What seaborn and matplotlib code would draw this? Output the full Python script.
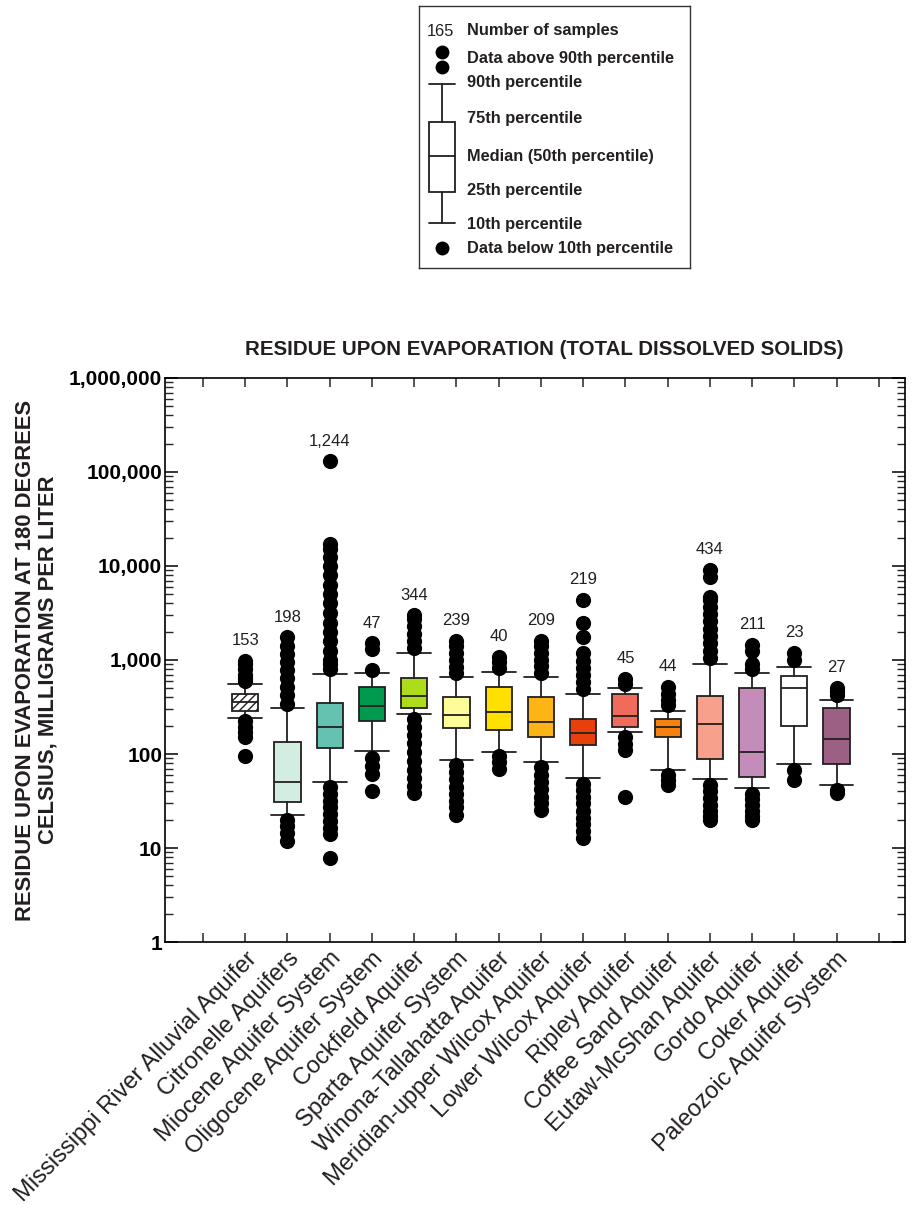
import matplotlib

matplotlib.use("Agg")
import matplotlib.pyplot as plt
import numpy as np
import pandas as pd
import seaborn as sns
from matplotlib.patches import Rectangle
from matplotlib.ticker import FuncFormatter, LogLocator, NullFormatter

# --- data (milligrams per liter) ---
AQUIFERS = [
    "Mississippi River Alluvial Aquifer",
    "Citronelle Aquifers",
    "Miocene Aquifer System",
    "Oligocene Aquifer System",
    "Cockfield Aquifer",
    "Sparta Aquifer System",
    "Winona-Tallahatta Aquifer",
    "Meridian-upper Wilcox Aquifer",
    "Lower Wilcox Aquifer",
    "Ripley Aquifer",
    "Coffee Sand Aquifer",
    "Eutaw-McShan Aquifer",
    "Gordo Aquifer",
    "Coker Aquifer",
    "Paleozoic Aquifer System",
]
N_SAMPLES = [153, 198, 1244, 47, 344, 239, 40, 209, 219, 45, 44, 434, 211, 23, 27]
P10 = [242, 22.4, 50, 108, 264, 86, 105, 82, 56, 173, 68, 54, 44, 78, 47]
P25 = [287, 31, 115, 224, 311, 188, 180, 150, 125, 192, 150, 89, 57, 200, 78]
P50 = [357, 50, 194, 324, 419, 260, 278, 217, 169, 254, 195, 208, 104, 500, 144]
P75 = [435, 135, 346, 520, 639, 407, 520, 401, 234, 435, 234, 417, 500, 676, 311]
P90 = [556, 311, 705, 722, 1196, 654, 751, 654, 435, 500, 289, 900, 722, 848, 375]

ABOVE_P90 = [
    [600, 650, 700, 800, 900, 980],
    [340, 420, 520, 640, 780, 950, 1150, 1400, 1750],
    [800, 900, 1000, 1250, 1600, 2000, 2500, 3200, 4000, 5000, 6300, 8000, 10000, 12500, 15000, 17000, 130000],
    [780, 1300, 1500],
    [1350, 1600, 1900, 2300, 2700, 3000],
    [720, 850, 1000, 1200, 1400, 1590],
    [820, 950, 1076],
    [730, 860, 1000, 1200, 1400, 1590],
    [490, 580, 690, 820, 980, 1200, 1760, 2480, 4350],
    [560, 628],
    [330, 380, 440, 516],
    [1050, 1250, 1500, 1800, 2150, 2600, 3100, 3700, 4300, 4680, 7640, 9060],
    [800, 900, 1250, 1445],
    [1000, 1187],
    [420, 465, 504],
]
BELOW_P10 = [
    [225, 195, 170, 150, 95],
    [20, 17, 14.5, 12],
    [45, 38, 32, 27, 23, 19.5, 16.5, 14, 7.9],
    [91, 75, 62, 40],
    [235, 195, 160, 130, 105, 85, 68, 55, 46, 38.5],
    [76, 64, 54, 45, 38, 32, 27, 22.5],
    [95, 82, 70],
    [72, 60, 50, 42, 35, 30, 25.5],
    [48, 41, 35, 30, 25, 21, 18, 15, 12.8],
    [150, 128, 110, 34.6],
    [60, 53, 47],
    [47, 40, 34, 29, 25, 22, 20],
    [38, 33, 29, 25, 22, 20],
    [67.6, 52.9],
    [41.5, 38.5],
]
BOX_COLORS = [
    "#ffffff", "#d3ede1", "#66c2b0", "#009a4e", "#addc1a",
    "#fefc99", "#ffe000", "#fcb514", "#e8400c", "#f06b5c",
    "#f5820e", "#f7a08c", "#c38cbb", "#ffffff", "#9c6085",
]
HATCHES = ["////"] + [""] * 14

TITLE = "RESIDUE UPON EVAPORATION (TOTAL DISSOLVED SOLIDS)"
Y_LABEL = "RESIDUE UPON EVAPORATION AT 180 DEGREES\nCELSIUS, MILLIGRAMS PER LITER"
KEY_ROWS = [
    ("Number of samples", 25),
    ("Data above 90th percentile", 53),
    ("90th percentile", 77),
    ("75th percentile", 113),
    ("Median (50th percentile)", 150),
    ("25th percentile", 185),
    ("10th percentile", 218),
    ("Data below 10th percentile", 243),
]

INK = "#231f20"
W, H = 922, 1205

sns.set_style("ticks")
plt.rcParams["font.family"] = ["Liberation Sans", "DejaVu Sans"]
plt.rcParams["text.color"] = INK
plt.rcParams["hatch.linewidth"] = 1.0

fig = plt.figure(figsize=(W / 100, H / 100), dpi=100)
ax = fig.add_axes([165 / W, 1 - 942 / H, 740 / W, 564 / H])

# boxes from the percentile table (whiskers = 10th / 90th percentile)
stats = [
    dict(label=name, whislo=lo, q1=q1, med=md, q3=q3, whishi=hi, fliers=[])
    for name, lo, q1, md, q3, hi in zip(AQUIFERS, P10, P25, P50, P75, P90)
]
line_kw = dict(color=INK, linewidth=1.3)
bp = ax.bxp(
    stats,
    positions=np.arange(len(AQUIFERS)),
    widths=0.62,
    capwidths=0.8,
    patch_artist=True,
    showfliers=False,
    boxprops=dict(edgecolor=INK, linewidth=1.3),
    medianprops=line_kw,
    whiskerprops=line_kw,
    capprops=line_kw,
)
for patch, color, hatch in zip(bp["boxes"], BOX_COLORS, HATCHES):
    patch.set_facecolor(color)
    patch.set_hatch(hatch)

# points outside the 10th-90th percentile range
rows = []
for i, (above, below) in enumerate(zip(ABOVE_P90, BELOW_P10)):
    rows += [(i, v) for v in above + below]
outliers = pd.DataFrame(rows, columns=["position", "value"])
sns.scatterplot(
    data=outliers, x="position", y="value", color="black", s=120,
    linewidth=0, legend=False, zorder=4, ax=ax,
)

ax.set_yscale("log")
ax.set_ylim(1, 1e6)
ax.set_xlim(-1.9, 15.62)

# sample counts above each column
for i, n in enumerate(N_SAMPLES):
    top = max(ABOVE_P90[i]) if ABOVE_P90[i] else P90[i]
    ax.annotate(f"{n:,}", xy=(i, top), xytext=(0, 14.5), textcoords="offset points",
                ha="center", va="center", fontsize=12)

ax.yaxis.set_major_locator(LogLocator(base=10, numticks=10))
ax.yaxis.set_minor_locator(LogLocator(base=10, subs=np.arange(2, 10), numticks=100))
ax.yaxis.set_major_formatter(FuncFormatter(lambda v, _: f"{v:,.0f}"))
ax.yaxis.set_minor_formatter(NullFormatter())
ax.tick_params(axis="y", which="major", direction="in", length=9.5, width=1.1,
               left=True, right=True, labelsize=15, pad=2, colors="black")
ax.tick_params(axis="y", which="minor", direction="in", length=5.5, width=1.0,
               left=True, right=True)
for lbl in ax.get_yticklabels():
    lbl.set_fontweight("bold")

ax.set_xticks(np.arange(-1, 16))
ax.set_xticklabels([""] + AQUIFERS + [""], rotation=46, ha="right", va="top",
                   rotation_mode="anchor", fontsize=17, color=INK)
ax.tick_params(axis="x", which="major", direction="in", length=6.5, width=1.1,
               bottom=True, top=True, pad=4)
ax.tick_params(axis="x", which="minor", bottom=False, top=False)
ax.set_xlabel("")
ax.set_ylabel("")
for spine in ax.spines.values():
    spine.set_visible(True)
    spine.set_linewidth(1.2)
    spine.set_color("black")

fig.text(544 / W, 1 - 349 / H, TITLE, ha="center", va="center", fontsize=14.8,
         fontweight="bold")
fig.text(37 / W, 1 - 660 / H, Y_LABEL, rotation=90, ha="center", va="center",
         fontsize=15.8, fontweight="bold", multialignment="center", linespacing=1.1)

# explanation key, drawn in its own pixel-sized axes
lax = fig.add_axes([419 / W, 1 - 268 / H, 271 / W, 262 / H])
lax.set_xlim(0, 271)
lax.set_ylim(262, 0)
lax.set_xticks([])
lax.set_yticks([])
for spine in lax.spines.values():
    spine.set_linewidth(1.0)
    spine.set_color("#333333")
lax.text(21, 25, "165", ha="center", va="center", fontsize=11.8)
lax.plot([23, 23], [46, 61], "o", color="black", markersize=10, markeredgewidth=0)
lax.plot([23], [242], "o", color="black", markersize=10, markeredgewidth=0)
lax.plot([10, 36], [78, 78], **line_kw)
lax.plot([23, 23], [78, 116], **line_kw)
lax.add_patch(Rectangle((10, 116), 26, 70, facecolor="white", edgecolor=INK, linewidth=1.3))
lax.plot([10, 36], [150, 150], **line_kw)
lax.plot([23, 23], [186, 217], **line_kw)
lax.plot([10, 36], [217, 217], **line_kw)
for text, y in KEY_ROWS:
    lax.text(48, y, text, ha="left", va="center", fontsize=11.8, fontweight="bold")

fig.savefig("out.png", dpi=100, facecolor="white")
